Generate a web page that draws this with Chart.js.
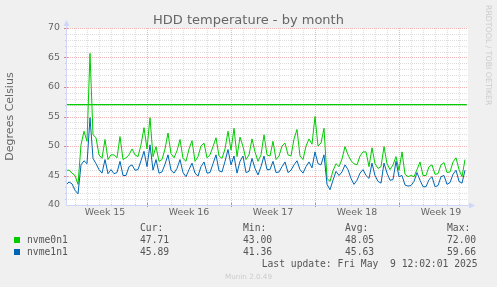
<!DOCTYPE html>
<html>
<head>
<meta charset="utf-8">
<script src="https://cdn.jsdelivr.net/npm/chart.js@4.4.1/dist/chart.umd.min.js"></script>
<style>
  html, body { margin: 0; padding: 0; background: #f0f0f0; }
  #wrap { position: relative; width: 497px; height: 287px; overflow: hidden; font-family: "DejaVu Sans", sans-serif; color: #666; }
  canvas { position: absolute; left: 0; top: 0; }
  .t { position: absolute; white-space: pre; line-height: 1; }
  .mono { font-family: "DejaVu Sans Mono", monospace; font-size: 9.7px; color: #555; }
  .sw { position: absolute; width: 6px; height: 6px; }
  #title { left: 0; width: 497px; text-align: center; top: 12.5px; font-size: 13px; }
  #rrd { left: 484px; top: 5px; font-size: 7.8px; color: #ccc; writing-mode: vertical-rl; }
  #munin { left: 0; width: 497px; text-align: center; top: 272.5px; font-size: 7.2px; color: #ccc; }
</style>
</head>
<body>
<div id="wrap">
  <canvas id="grafico" width="497" height="287"></canvas>
  <div class="t" id="title">HDD temperature - by month</div>
  <div class="t" id="rrd">RRDTOOL / TOBI OETIKER</div>
  <div class="t" id="munin">Munin 2.0.49</div>
  <div id="leyenda"></div>
</div>
<script>
// muestras cada 6 horas (0.25 dias) desde el inicio del grafico
const dayStep = 0.25;
const nvme0n1 = [45.9, 45.9, 45.4, 45.0, 43.5, 50.2, 52.5, 50.8, 65.7, 51.9,
  51.4, 48.5, 47.9, 51.1, 47.7, 48.5, 48.5, 48.0, 51.6, 47.7,
  48.0, 48.5, 49.5, 48.5, 48.2, 50.2, 53.1, 49.5, 54.8, 48.2,
  49.9, 47.4, 47.7, 49.5, 52.2, 48.7, 48.0, 49.2, 51.1, 47.9,
  47.4, 49.5, 50.9, 47.4, 48.2, 50.0, 50.5, 48.0, 48.5, 49.9,
  51.4, 48.3, 47.9, 49.5, 52.5, 49.3, 53.0, 48.2, 51.5, 49.9,
  47.7, 48.5, 51.2, 49.0, 47.4, 48.5, 51.9, 48.5, 48.3, 50.8,
  47.7, 48.3, 50.0, 50.5, 48.5, 48.3, 51.2, 52.8, 48.3, 47.7,
  50.0, 51.2, 50.3, 55.0, 50.0, 50.5, 53.0, 44.5, 44.0, 45.8,
  47.0, 46.5, 47.8, 49.9, 48.5, 47.5, 47.0, 46.8, 48.3, 49.0,
  49.0, 46.5, 49.7, 47.0, 46.2, 46.5, 49.9, 47.0, 46.0, 46.8,
  48.2, 45.9, 49.0, 45.2, 44.8, 45.0, 44.8, 46.0, 47.3, 45.0,
  45.0, 46.5, 46.8, 45.2, 45.3, 46.8, 47.2, 45.5, 45.6, 47.3,
  48.0, 46.0, 44.8, 47.7];
const nvme1n1 = [43.4, 43.9, 43.6, 42.5, 41.9, 46.8, 47.5, 47.0, 54.8, 47.9,
  47.0, 46.0, 45.4, 47.7, 45.3, 46.0, 45.3, 45.5, 47.4, 45.0,
  45.0, 46.5, 46.8, 45.9, 46.0, 47.5, 49.1, 46.5, 50.2, 45.9,
  47.7, 45.4, 45.6, 46.9, 48.5, 45.9, 45.4, 46.2, 47.7, 45.5,
  44.8, 46.0, 47.1, 45.4, 44.9, 46.5, 47.3, 45.4, 45.5, 47.0,
  48.5, 45.8, 45.6, 47.4, 49.4, 46.8, 48.3, 45.4, 47.4, 48.3,
  45.5, 45.7, 47.9, 46.2, 45.1, 46.5, 48.3, 46.0, 46.0, 47.4,
  45.5, 45.6, 46.5, 47.3, 45.5, 45.9, 46.8, 47.5, 46.0, 45.4,
  46.5, 47.3, 46.3, 49.0, 47.0, 46.8, 48.5, 43.5, 42.6, 44.2,
  45.7, 45.0, 45.6, 46.8, 46.0, 44.5, 43.5, 44.2, 45.4, 46.0,
  45.0, 44.5, 47.1, 45.0, 44.0, 43.7, 47.1, 45.4, 44.2, 44.3,
  47.4, 44.8, 45.0, 43.4, 43.2, 43.3, 44.0, 45.5, 44.2, 43.1,
  43.1, 44.3, 44.8, 43.1, 43.3, 44.8, 45.0, 43.5, 43.8, 45.2,
  45.9, 44.0, 43.7, 45.9];
const warnLevel = 57;

const weekLabels = ['Week 15', 'Week 16', 'Week 17', 'Week 18', 'Week 19'];
const firstWeekStart = -0.25;   // lunes de la semana 15, en dias
const xMaxDays = 33.5;

const series = ['nvme0n1', 'nvme1n1'];
const colores = ['#00cc00', '#0066b3'];
const cur = ['47.71', '45.89'];
const min = ['43.00', '41.36'];
const avg = ['48.05', '45.63'];
const max = ['72.00', '59.66'];
const lastUpdate = 'Last update: Fri May  9 12:02:01 2025';

const toPoints = arr => arr.map((v, i) => ({ x: i * dayStep, y: v }));
const weekMid = weekLabels.map((_, i) => firstWeekStart + 7 * i + 3.5);

// rejilla y ejes al estilo rrdtool
const rejilla = {
  id: 'rejilla',
  beforeDatasetsDraw(chart) {
    const { ctx, chartArea: a, scales: { x, y } } = chart;
    ctx.save();
    ctx.fillStyle = '#ffffff';
    ctx.fillRect(a.left, a.top, a.width, a.height);
    ctx.lineWidth = 1;
    ctx.setLineDash([1, 1]);
    for (let v = 41; v <= 70; v++) {
      const py = Math.round(y.getPixelForValue(v)) + 0.5;
      ctx.strokeStyle = v % 5 === 0 ? '#f0b4b4' : '#dedede';
      ctx.beginPath(); ctx.moveTo(a.left, py); ctx.lineTo(a.right, py); ctx.stroke();
    }
    for (let d = firstWeekStart + 1; d < xMaxDays; d++) {
      const px = Math.round(x.getPixelForValue(d)) + 0.5;
      const mayor = Math.abs(((d - firstWeekStart) % 7)) < 1e-6;
      ctx.strokeStyle = mayor ? '#f0b4b4' : '#dedede';
      ctx.beginPath(); ctx.moveTo(px, a.top); ctx.lineTo(px, a.bottom); ctx.stroke();
    }
    ctx.restore();
  },
  afterDatasetsDraw(chart) {
    const { ctx, chartArea: a, scales: { x, y } } = chart;
    ctx.save();
    ctx.setLineDash([]);
    ctx.lineWidth = 1;
    // marcas del eje x
    for (let d = firstWeekStart + 1; d < xMaxDays; d++) {
      const px = Math.round(x.getPixelForValue(d)) + 0.5;
      const mayor = Math.abs(((d - firstWeekStart) % 7)) < 1e-6;
      ctx.strokeStyle = mayor ? '#e08080' : '#c8c8c8';
      ctx.beginPath(); ctx.moveTo(px, a.bottom - (mayor ? 2 : 1)); ctx.lineTo(px, a.bottom + (mayor ? 2 : 1)); ctx.stroke();
    }
    for (let v = 41; v <= 70; v++) {
      const py = Math.round(y.getPixelForValue(v)) + 0.5;
      const mayor = v % 5 === 0;
      ctx.strokeStyle = mayor ? '#e08080' : '#c8c8c8';
      ctx.beginPath(); ctx.moveTo(a.left - (mayor ? 2 : 1), py); ctx.lineTo(a.left + (mayor ? 2 : 1), py); ctx.stroke();
    }
    const ax = '#cfd6f8';
    const l = Math.round(a.left) + 0.5, b = Math.round(a.bottom) + 0.5;
    ctx.strokeStyle = ax;
    ctx.beginPath(); ctx.moveTo(l, b); ctx.lineTo(l, a.top - 5); ctx.stroke();
    ctx.beginPath(); ctx.moveTo(l, b); ctx.lineTo(a.right + 3, b); ctx.stroke();
    ctx.fillStyle = ax;
    ctx.beginPath(); ctx.moveTo(l - 3, a.top - 2); ctx.lineTo(l + 3, a.top - 2); ctx.lineTo(l, a.top - 8); ctx.closePath(); ctx.fill();
    ctx.beginPath(); ctx.moveTo(a.right + 1, b - 3); ctx.lineTo(a.right + 1, b + 3); ctx.lineTo(a.right + 7, b); ctx.closePath(); ctx.fill();
    ctx.restore();
  }
};

Chart.defaults.font.family = '"DejaVu Sans", sans-serif';
Chart.defaults.color = '#666';

new Chart(document.getElementById('grafico'), {
  type: 'line',
  data: {
    datasets: [
      { label: series[0], data: toPoints(nvme0n1), borderColor: colores[0], borderWidth: 1, pointRadius: 0, order: 2 },
      { label: series[1], data: toPoints(nvme1n1), borderColor: colores[1], borderWidth: 1, pointRadius: 0, order: 1 },
      { label: 'warning', data: [{ x: 0, y: warnLevel }, { x: 33.4, y: warnLevel }], borderColor: colores[0], borderWidth: 1.3, pointRadius: 0, order: 3 }
    ]
  },
  options: {
    responsive: false,
    devicePixelRatio: 1,
    animation: false,
    layout: { padding: { top: 28, right: 29, bottom: 62, left: 0 } },
    plugins: { legend: { display: false }, tooltip: { enabled: false } },
    scales: {
      x: {
        type: 'linear', min: 0, max: xMaxDays,
        grid: { display: false, drawTicks: false },
        border: { display: false },
        afterBuildTicks: s => { s.ticks = weekMid.map(v => ({ value: v })); },
        afterFit: s => { s.height = 20; },
        ticks: { autoSkip: false, maxRotation: 0, padding: 2, font: { size: 9.4 }, callback: (v, i) => weekLabels[i] }
      },
      y: {
        min: 40, max: 70,
        grid: { display: false, drawTicks: false },
        border: { display: false },
        afterFit: s => { s.width = 66; },
        ticks: { stepSize: 5, padding: 6, font: { size: 9.4 } },
        title: { display: true, text: 'Degrees Celsius', font: { size: 11 } }
      }
    }
  },
  plugins: [rejilla]
});

// leyenda estilo munin
const leyenda = document.getElementById('leyenda');
function texto(s, x, y) {
  const d = document.createElement('div');
  d.className = 't mono';
  d.style.left = x + 'px';
  d.style.top = y + 'px';
  d.textContent = s;
  leyenda.appendChild(d);
}
const cols = [140, 243, 345, 447];
['Cur:', 'Min:', 'Avg:', 'Max:'].forEach((h, i) => texto(h, cols[i], 223.2));
series.forEach((s, r) => {
  const top = 235.3 + r * 12;
  const sw = document.createElement('div');
  sw.className = 'sw';
  sw.style.left = '14px';
  sw.style.top = (237 + r * 12) + 'px';
  sw.style.background = colores[r];
  leyenda.appendChild(sw);
  texto(s, 27, top);
  [cur[r], min[r], avg[r], max[r]].forEach((v, i) => texto(v, cols[i], top));
});
texto(lastUpdate, 261.7, 259);
</script>
</body>
</html>
